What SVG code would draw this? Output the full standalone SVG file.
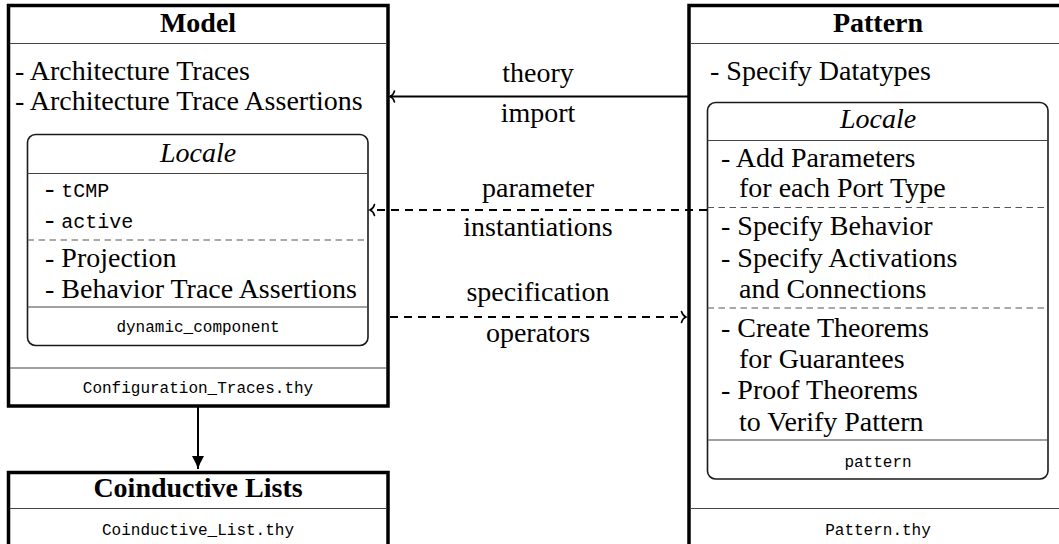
<svg xmlns="http://www.w3.org/2000/svg" width="1059" height="544" viewBox="0 0 1059 544">
  <style>
    .bg { fill: #ffffff; }
    .outer { fill: #ffffff; stroke: #000000; stroke-width: 3.5; }
    .locale { fill: none; stroke: #1a1a1a; stroke-width: 1.6; }
    .sep { stroke: #444444; stroke-width: 1.2; fill: none; }
    .dsep { stroke: #555555; stroke-width: 1.2; fill: none; stroke-dasharray: 6.5 4.5; }
    .title { font-family: "Liberation Serif", "Times New Roman", serif; font-weight: bold; font-size: 28px; fill: #000; text-anchor: middle; }
    .body { font-family: "Liberation Serif", "Times New Roman", serif; font-size: 28px; fill: #000; }
    .ital { font-family: "Liberation Serif", "Times New Roman", serif; font-style: italic; font-size: 28px; fill: #000; text-anchor: middle; }
    .mono { font-family: "Liberation Mono", "Courier New", monospace; font-size: 20px; }
    .file { font-family: "Liberation Mono", "Courier New", monospace; font-size: 16px; fill: #000; text-anchor: middle; }
    .lbl { font-family: "Liberation Serif", "Times New Roman", serif; font-size: 28px; fill: #000; text-anchor: middle; }
    .edge { stroke: #000000; stroke-width: 2; fill: none; }
    .dashed { stroke-dasharray: 8 6; }
  </style>
  <defs>
    <!-- open curved arrow tip -->
    <marker id="to" viewBox="-6 -7 8 14" refX="0" refY="0" markerWidth="8" markerHeight="14" markerUnits="userSpaceOnUse" orient="auto">
      <path d="M-4.5,-5.5 C-3.6,-2.2 -1.6,-0.6 0,0 C-1.6,0.6 -3.6,2.2 -4.5,5.5" fill="none" stroke="#000" stroke-width="1.6" stroke-linecap="round"/>
    </marker>
    <!-- filled arrow tip -->
    <marker id="latex" viewBox="-14 -7 15 14" refX="0" refY="0" markerWidth="15" markerHeight="14" markerUnits="userSpaceOnUse" orient="auto">
      <path d="M-13,-6 Q-6,-2 0,0 Q-6,2 -13,6 Z" fill="#000"/>
    </marker>
  </defs>

  <rect class="bg" x="0" y="0" width="1059" height="544"/>

  <!-- Model theory -->
  <g id="model">
    <rect class="outer" x="8.5" y="5.5" width="379.5" height="400.5"/>
    <line class="sep" x1="10" y1="43.5" x2="386" y2="43.5"/>
    <text class="title" x="198" y="32">Model</text>
    <text class="body" x="15" y="80">- Architecture Traces</text>
    <text class="body" x="15" y="110">- Architecture Trace Assertions</text>
    <g id="model-locale">
      <rect class="locale" x="27.5" y="134.5" width="340.5" height="211" rx="8" ry="8"/>
      <line class="sep" x1="27.5" y1="173.5" x2="368" y2="173.5"/>
      <text class="ital" x="198" y="162">Locale</text>
      <text class="body" x="45" y="197">- <tspan class="mono">tCMP</tspan></text>
      <text class="body" x="45" y="228">- <tspan class="mono">active</tspan></text>
      <line class="dsep" x1="27.5" y1="240" x2="368" y2="240"/>
      <text class="body" x="45" y="267">- Projection</text>
      <text class="body" x="45" y="298">- Behavior Trace Assertions</text>
      <line class="sep" x1="27.5" y1="307" x2="368" y2="307"/>
      <text class="file" x="198" y="332">dynamic_component</text>
    </g>
    <line class="sep" x1="10" y1="368" x2="386" y2="368"/>
    <text class="file" x="198" y="393">Configuration_Traces.thy</text>
  </g>

  <!-- Coinductive lists theory -->
  <g id="coinductive">
    <rect class="outer" x="8.5" y="472.5" width="379.5" height="90"/>
    <line class="sep" x1="10" y1="508.5" x2="386" y2="508.5"/>
    <text class="title" x="198" y="497">Coinductive Lists</text>
    <text class="file" x="198" y="535">Coinductive_List.thy</text>
  </g>

  <!-- Pattern theory -->
  <g id="pattern">
    <rect class="outer" x="689" y="5.5" width="400" height="560"/>
    <line class="sep" x1="690.5" y1="43.5" x2="1059" y2="43.5"/>
    <text class="title" x="878" y="32">Pattern</text>
    <text class="body" x="710" y="80">- Specify Datatypes</text>
    <g id="pattern-locale">
      <rect class="locale" x="707.5" y="102.5" width="340.5" height="376.5" rx="8" ry="8"/>
      <line class="sep" x1="707.5" y1="140.5" x2="1048" y2="140.5"/>
      <text class="ital" x="878" y="128">Locale</text>
      <text class="body" x="721" y="167">- Add Parameters</text>
      <text class="body" x="739" y="197">for each Port Type</text>
      <line class="dsep" x1="707.5" y1="207.5" x2="1048" y2="207.5"/>
      <text class="body" x="721" y="235">- Specify Behavior</text>
      <text class="body" x="721" y="267">- Specify Activations</text>
      <text class="body" x="739" y="298">and Connections</text>
      <line class="dsep" x1="707.5" y1="308" x2="1048" y2="308"/>
      <text class="body" x="721" y="337">- Create Theorems</text>
      <text class="body" x="739" y="368">for Guarantees</text>
      <text class="body" x="721" y="399">- Proof Theorems</text>
      <text class="body" x="739" y="431">to Verify Pattern</text>
      <line class="sep" x1="707.5" y1="440" x2="1048" y2="440"/>
      <text class="file" x="878" y="467">pattern</text>
    </g>
    <line class="sep" x1="690.5" y1="508.5" x2="1059" y2="508.5"/>
    <text class="file" x="878" y="535">Pattern.thy</text>
  </g>

  <!-- Connectors -->
  <g id="connectors">
    <line class="edge" x1="688" y1="96.5" x2="390" y2="96.5" marker-end="url(#to)"/>
    <text class="lbl" x="538" y="82">theory</text>
    <text class="lbl" x="538" y="122">import</text>

    <line class="edge dashed" x1="707" y1="210" x2="370" y2="210" marker-end="url(#to)"/>
    <text class="lbl" x="538" y="197">parameter</text>
    <text class="lbl" x="538" y="236">instantiations</text>

    <line class="edge dashed" x1="390" y1="317" x2="686" y2="317" marker-end="url(#to)"/>
    <text class="lbl" x="538" y="301">specification</text>
    <text class="lbl" x="538" y="342">operators</text>

    <line class="edge" x1="198" y1="407" x2="198" y2="469" marker-end="url(#latex)"/>
  </g>
</svg>
